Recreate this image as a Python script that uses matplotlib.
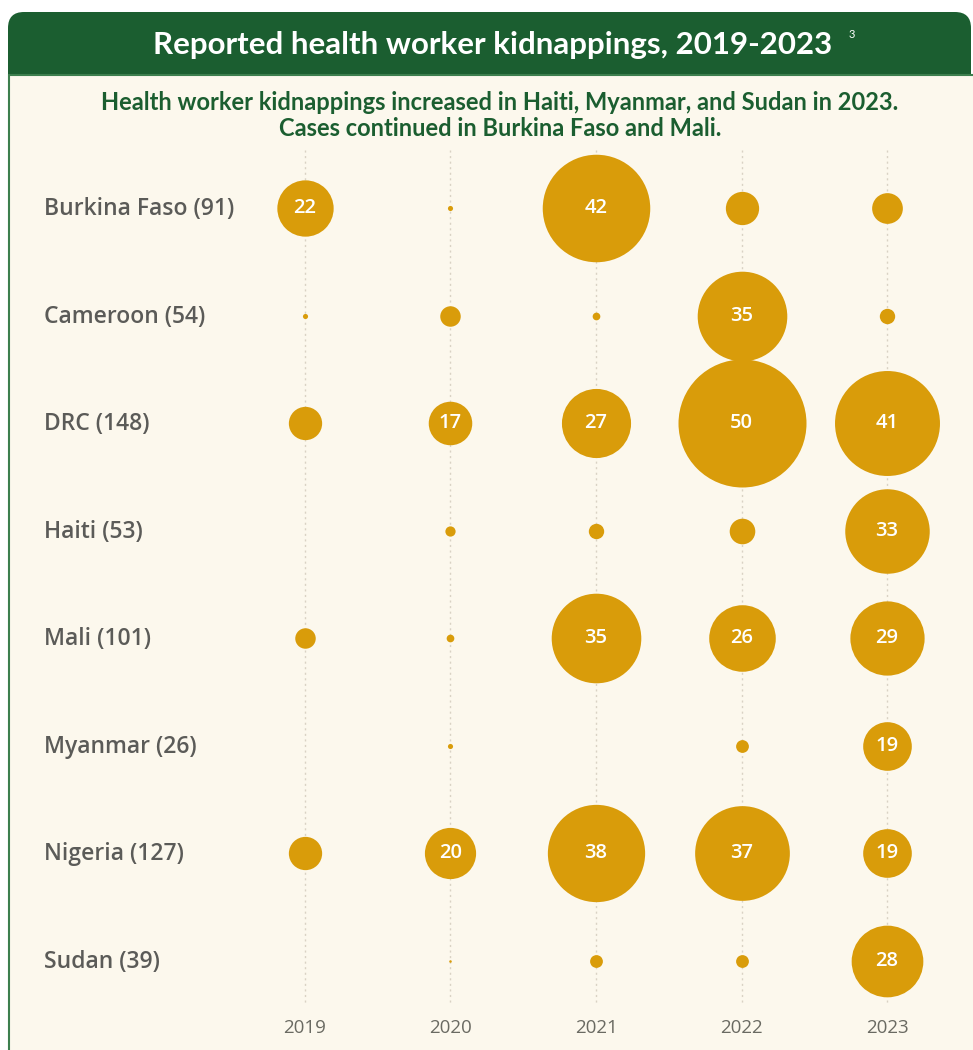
import matplotlib.pyplot as plt
from matplotlib.patches import FancyBboxPatch, Rectangle

# data
countries = ["Burkina Faso", "Cameroon", "DRC", "Haiti", "Mali", "Myanmar", "Nigeria", "Sudan"]
totals = [91, 54, 148, 53, 101, 26, 127, 39]
years = [2019, 2020, 2021, 2022, 2023]
y2019 = [22, 2, 13, 0, 8, 0, 13, 0]
y2020 = [2, 8, 17, 4, 3, 2, 20, 1]
y2021 = [42, 3, 27, 6, 35, 0, 38, 5]
y2022 = [13, 35, 50, 10, 26, 5, 37, 5]
y2023 = [12, 6, 41, 33, 29, 19, 19, 28]
counts = [y2019, y2020, y2021, y2022, y2023]

GREEN = "#1b5e30"
GOLD = "#d99c0a"
CREAM = "#fcf8ed"
GREY = "#5b5b58"

W, H = 973, 1050
fig = plt.figure(figsize=(W / 100, H / 100), dpi=100)
fig.patch.set_facecolor("white")

# background frame in pixel coords
bg = fig.add_axes([0, 0, 1, 1])
bg.set_xlim(0, W)
bg.set_ylim(H, 0)
bg.axis("off")
bg.add_patch(FancyBboxPatch((8, 12), 963, 120, boxstyle="round,pad=0,rounding_size=16",
                            facecolor=GREEN, edgecolor="none"))
bg.add_patch(Rectangle((8.5, 75), 970, 990, facecolor=CREAM, edgecolor="#3d7f4e", linewidth=1.5))

# bubble axes: x in years, y in row index
ax = fig.add_axes([0, 0, 1, 1])
ax.patch.set_alpha(0)
px_year = 145.5
px_row = 107.57
ax.set_xlim(2019 - 305 / px_year, 2019 + (W - 305) / px_year)
ax.set_ylim((H - 208) / px_row, -208 / px_row)
ax.axis("off")

for yr in years:
    ax.plot([yr, yr], [-0.54, 7.39], color="#d9d2c4", linestyle=(0, (1.5, 2.5)), linewidth=1, zorder=1)

for yr, vals in zip(years, counts):
    for row, v in enumerate(vals):
        if v == 0:
            continue
        r_px = 1.28 * v  # radius grows linearly with the count
        d_pt = 2 * r_px * 72 / 100
        ax.scatter(yr, row, s=d_pt ** 2, color=GOLD, linewidths=0, zorder=2)
        if v >= 15:
            ax.text(yr, row, str(v), ha="center", va="center", color="white",
                    fontsize=14.5, fontweight="semibold", family="Open Sans", zorder=3)

for row, (c, t) in enumerate(zip(countries, totals)):
    ax.text(2019 - (305 - 44) / px_year, row + 0.01, f"{c} ({t})", ha="left", va="center",
            color=GREY, fontsize=16.5, fontweight="semibold", family="Open Sans")

for yr in years:
    ax.text(yr, (1028 - 208) / px_row, str(yr), ha="center", va="center",
            color="#6a6a62", fontsize=13.5, family="Open Sans")

# titles
fig.text(493 / W, 1 - 45 / H, "Reported health worker kidnappings, 2019-2023", ha="center", va="center",
         color="white", fontsize=22.5, fontweight="bold", family="Lato")
fig.text(852 / W, 1 - 34 / H, "3", ha="center", va="center", color="white", fontsize=8, family="Lato")
fig.text(500 / W, 1 - 103 / H, "Health worker kidnappings increased in Haiti, Myanmar, and Sudan in 2023.",
         ha="center", va="center", color=GREEN, fontsize=17, fontweight="bold", family="Lato")
fig.text(500 / W, 1 - 128 / H, "Cases continued in Burkina Faso and Mali.",
         ha="center", va="center", color=GREEN, fontsize=17, fontweight="bold", family="Lato")

fig.savefig("out.png", dpi=100)
